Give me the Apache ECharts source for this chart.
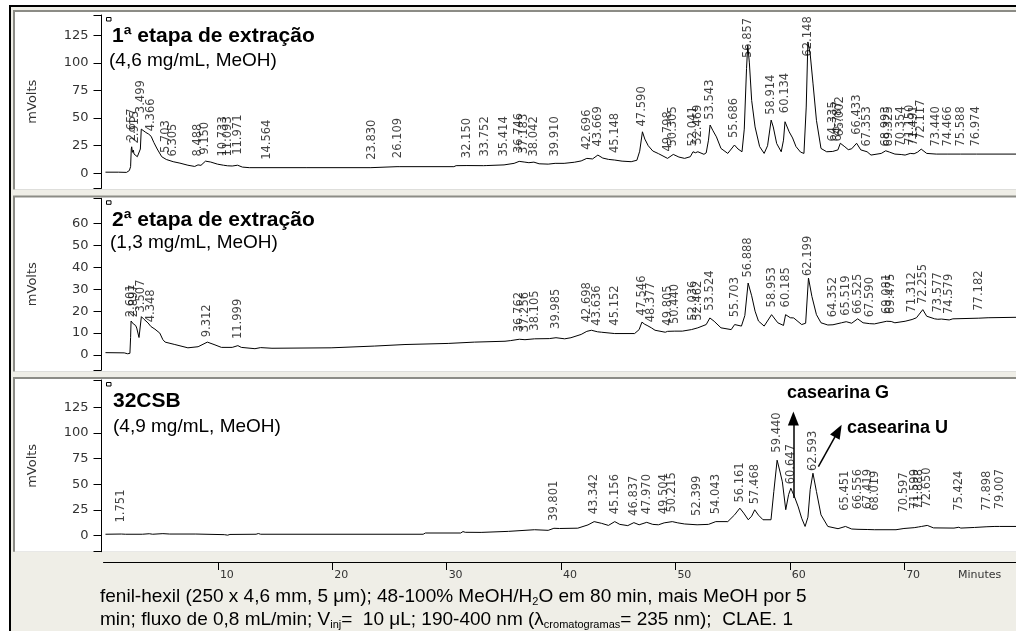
<!DOCTYPE html>
<html><head><meta charset="utf-8">
<script src="https://cdn.jsdelivr.net/npm/echarts@6/dist/echarts.min.js"></script>
<style>html,body{margin:0;padding:0;background:#fff}#c{width:1016px;height:631px}</style>
</head><body><div id="c"></div>
<script>
// Chromatogram traces: [retention time (min), signal (mV)]
const trace1 = [[0.35,1.0],[1.5,1.0],[2.2,0.8],[2.45,2.5],[2.56,6.0],[2.62,22.0],[2.657,24.0],[2.72,19.0],[2.8,21.0],[2.86,17.5],[2.915,19.0],[3.0,16.0],[3.15,15.0],[3.3,13.5],[3.42,22.0],[3.499,40.0],[3.65,38.5],[3.9,37.0],[4.15,35.5],[4.366,33.5],[4.6,28.0],[4.9,22.0],[5.3,15.0],[5.703,12.5],[6.305,10.5],[6.9,9.2],[7.6,7.3],[8.2,6.2],[8.488,7.6],[8.75,7.2],[9.15,11.0],[9.6,10.2],[10.2,8.3],[10.733,7.3],[11.093,6.8],[11.5,6.6],[11.971,7.3],[12.4,5.6],[13.0,5.1],[18.0,5.1],[23.7,5.1],[23.83,6.0],[26.0,6.0],[26.109,7.0],[26.25,6.0],[31.0,6.0],[31.2,6.9],[32.15,7.0],[33.6,6.9],[33.752,8.7],[33.9,7.0],[35.414,7.6],[36.3,9.0],[36.746,10.8],[37.183,10.2],[37.6,9.6],[38.042,10.1],[38.5,8.6],[39.3,8.3],[39.91,9.0],[40.7,9.0],[41.6,10.0],[42.2,11.2],[42.696,13.5],[43.2,13.0],[43.669,16.5],[44.1,13.8],[44.6,12.6],[45.148,12.0],[45.8,11.0],[46.6,10.5],[47.1,11.8],[47.35,20.0],[47.59,37.6],[47.8,31.0],[48.1,25.0],[48.5,20.2],[49.0,17.8],[49.798,13.5],[50.305,17.1],[50.8,14.7],[51.3,13.5],[51.8,15.0],[52.041,19.5],[52.25,18.6],[52.469,19.5],[53.0,17.2],[53.2,18.5],[53.4,30.0],[53.543,43.7],[53.8,38.5],[54.1,33.0],[54.5,22.5],[55.1,18.0],[55.686,25.6],[56.0,22.0],[56.35,19.5],[56.55,40.0],[56.75,95.0],[56.857,116.0],[57.0,100.0],[57.2,66.0],[57.5,42.0],[57.9,24.2],[58.3,18.0],[58.6,25.0],[58.914,48.2],[59.1,42.0],[59.4,27.0],[59.8,19.5],[60.0,30.0],[60.134,46.7],[60.5,37.6],[60.8,32.0],[61.1,24.2],[61.5,19.2],[61.8,18.0],[62.0,60.0],[62.148,119.0],[62.35,108.0],[62.6,81.0],[62.9,48.0],[63.3,22.5],[63.8,19.5],[64.335,19.8],[64.787,21.2],[65.002,27.2],[65.4,24.0],[65.7,21.4],[66.0,22.2],[66.433,27.2],[66.8,21.2],[67.353,19.5],[67.7,16.5],[68.6,18.0],[68.993,20.4],[69.325,19.2],[69.8,17.4],[70.354,17.0],[70.7,16.5],[71.15,18.0],[71.491,17.7],[71.8,19.2],[72.117,21.9],[72.6,18.0],[73.44,17.4],[74.466,17.4],[75.588,17.4],[76.974,17.4],[80.5,17.4]];

const trace2 = [[0.35,1.1],[2.0,1.0],[2.3,0.6],[2.5,0.8],[2.56,8.0],[2.601,15.5],[2.7,14.8],[2.75,15.6],[2.8,14.2],[2.897,14.5],[3.0,13.5],[3.1,12.3],[3.3,8.0],[3.42,8.8],[3.507,17.5],[3.7,16.5],[4.1,14.6],[4.348,13.0],[4.7,11.8],[5.13,10.0],[5.4,7.0],[5.6,5.9],[6.45,4.8],[7.6,3.3],[8.5,3.8],[9.312,5.9],[9.9,4.8],[10.55,3.5],[11.5,3.5],[11.999,4.3],[12.3,3.5],[13.5,2.9],[14.0,3.4],[15.0,3.1],[20.2,3.3],[20.3,4.1],[24.0,4.1],[24.1,4.8],[26.7,4.8],[26.8,5.3],[30.5,5.3],[30.6,5.9],[32.8,5.9],[32.9,6.3],[35.5,6.3],[36.0,6.6],[36.762,7.2],[37.256,7.0],[38.105,7.4],[39.4,7.5],[39.985,7.9],[40.75,7.4],[41.3,7.9],[42.2,9.4],[42.698,10.8],[43.1,11.3],[43.636,10.6],[44.0,10.4],[45.152,9.8],[46.9,9.8],[47.3,11.6],[47.546,15.0],[47.8,14.0],[48.0,13.5],[48.377,12.4],[48.7,11.3],[49.6,10.4],[49.805,10.8],[50.44,10.9],[51.1,10.9],[51.9,11.6],[52.036,12.0],[52.462,12.4],[53.2,13.9],[53.524,16.9],[53.9,15.4],[54.5,12.4],[55.4,11.6],[55.703,13.9],[56.3,13.2],[56.6,18.0],[56.888,32.8],[57.2,27.0],[57.5,20.0],[57.8,15.5],[58.3,13.2],[58.953,18.4],[59.5,14.7],[60.0,13.5],[60.185,18.4],[60.6,17.0],[60.9,16.9],[61.6,13.9],[61.95,14.5],[62.199,35.1],[62.5,26.7],[62.9,18.4],[63.3,14.7],[63.9,13.7],[64.352,13.8],[65.1,14.7],[65.519,15.2],[66.0,14.5],[66.525,16.5],[67.0,14.7],[67.59,14.3],[68.0,14.2],[69.081,15.4],[69.475,15.3],[69.8,14.7],[70.7,15.4],[71.312,16.2],[71.7,17.0],[72.255,20.7],[72.6,17.7],[73.3,16.5],[73.577,16.3],[73.9,16.4],[74.579,16.0],[74.9,16.5],[77.182,16.8],[78.0,17.0],[80.5,17.2]];

const trace3 = [[0.35,1.4],[1.751,1.6],[1.9,2.1],[2.1,1.4],[3.3,1.4],[3.4,2.0],[3.6,1.4],[4.2,1.9],[4.5,1.4],[5.4,2.0],[6.0,1.6],[8.3,1.6],[10.8,1.0],[11.1,0.5],[11.3,1.2],[13.6,1.4],[13.8,2.1],[14.0,1.4],[28.3,1.4],[28.5,2.6],[31.6,2.6],[31.8,4.0],[32.0,3.3],[33.4,3.2],[35.8,4.2],[38.1,5.8],[39.3,5.2],[39.801,7.2],[40.3,7.0],[41.9,7.3],[42.8,10.5],[43.342,13.7],[44.0,12.0],[44.6,10.0],[45.156,13.7],[45.6,11.0],[46.3,9.8],[46.837,12.7],[47.3,10.6],[47.97,13.0],[48.5,11.0],[49.0,10.6],[49.504,12.5],[50.215,13.7],[50.7,12.5],[51.3,11.4],[52.399,10.6],[53.4,11.0],[54.043,13.7],[55.1,13.7],[55.7,20.3],[56.161,26.8],[56.5,22.0],[56.9,15.5],[57.2,19.0],[57.468,25.2],[57.8,20.0],[58.2,15.5],[58.9,15.5],[59.15,43.0],[59.44,73.5],[59.7,62.0],[59.9,52.5],[60.2,25.3],[60.45,40.0],[60.647,46.2],[61.0,37.0],[61.3,28.0],[61.6,17.0],[61.9,9.0],[62.15,18.0],[62.35,45.0],[62.593,60.8],[62.9,43.0],[63.3,20.3],[63.9,9.0],[64.8,6.8],[65.451,9.0],[66.0,6.5],[66.556,6.2],[67.419,6.0],[68.019,5.8],[69.9,5.8],[70.597,7.0],[71.5,7.8],[71.599,8.0],[71.888,8.5],[72.15,9.0],[72.65,10.0],[73.2,7.6],[75.0,7.4],[75.424,8.2],[75.6,7.4],[76.8,8.0],[77.898,8.7],[78.6,9.0],[79.007,9.0],[80.5,9.0]];

// Integrated peaks: [retention time (min), level of the printed label (mV)]
const peaks1 = [[2.657,24],[2.915,22],[3.499,49.5],[4.366,33],[5.703,13.3],[6.305,10.2],[8.488,10.2],[9.150,11.8],[10.733,10.2],[11.093,10.2],[11.971,11.8],[14.564,7.2],[23.830,7.2],[26.109,8.7],[32.150,8.7],[33.752,10.2],[35.414,10.2],[36.746,13.3],[37.183,12.5],[38.042,10.2],[39.910,10.2],[42.696,16.3],[43.669,19.3],[45.148,13.3],[47.590,37.4],[49.798,14.8],[50.305,19.3],[52.041,19.3],[52.469,20.8],[53.543,43.5],[55.686,26.9],[56.857,99.4],[58.914,48],[60.134,49.5],[62.148,100.8],[64.335,23.8],[64.787,23.8],[65.002,28.4],[66.433,29.9],[67.353,19.3],[68.993,19.3],[69.325,19.3],[70.354,19.3],[71.150,20.8],[71.491,20.0],[72.117,25.4],[73.440,19.3],[74.466,19.3],[75.588,19.3],[76.974,19.3]];
const peaks2 = [[2.601,14.7],[2.897,14.7],[3.507,16.9],[4.348,12.4],[9.312,5.6],[11.999,4.8],[36.762,7.9],[37.256,7.9],[38.105,8.6],[39.985,9.4],[42.698,12.4],[43.636,10.9],[45.152,10.9],[47.546,15.4],[48.377,12.4],[49.805,10.9],[50.440,11.6],[52.036,13.1],[52.462,13.1],[53.524,17.7],[55.703,14.7],[56.888,32.8],[58.953,19.2],[60.185,19.2],[62.199,33.5],[64.352,14.7],[65.519,15.4],[66.525,16.2],[67.590,14.7],[69.081,16.2],[69.475,16.2],[71.312,16.9],[72.255,20.7],[73.577,16.9],[74.579,16.2],[77.182,17.7]];
const peaks3 = [[1.751,7.5],[39.801,9.0],[43.342,15.5],[45.156,15.5],[46.837,13.9],[47.970,15.5],[49.504,15.5],[50.215,17.2],[52.399,13.9],[54.043,15.5],[56.161,26.9],[57.468,25.3],[59.440,75.5],[60.647,44.7],[62.593,57.6],[65.451,18.8],[66.556,20.4],[67.419,20.4],[68.019,18.8],[70.597,17.2],[71.599,20.4],[71.888,20.4],[72.650,22.0],[75.424,18.8],[77.898,18.8],[79.007,20.4]];

// Axis tick values
const yTicks1 = [0, 25, 50, 75, 100, 125];
const yTicks2 = [0, 10, 20, 30, 40, 50, 60];
const yTicks3 = [0, 25, 50, 75, 100, 125];
const timeTicks = [0, 10, 20, 30, 40, 50, 60, 70, 80];

// Panel titles
const titles = ['1ª etapa de extração', '2ª etapa de extração', '32CSB'];
const subtitles = ['(4,6 mg/mL, MeOH)', '(1,3 mg/mL, MeOH)', '(4,9 mg/mL, MeOH)'];

// Layout of the three stacked chromatogram panels (pixels) and their signal ranges
const panels = [
  { frameTop: 10,    frameBottom: 189.5, axisTop: 15,    axisBottom: 188.3, yMin: -13.6, yMax: 143.4, ticks: yTicks1, trace: trace1, peaks: peaks1, titleY: 36,  subY: 61,  titleX: 112, subX: 109 },
  { frameTop: 195.5, frameBottom: 371.5, axisTop: 198.3, axisBottom: 370,   yMin: -6.8,  yMax: 71.4,  ticks: yTicks2, trace: trace2, peaks: peaks2, titleY: 220, subY: 243, titleX: 112, subX: 110 },
  { frameTop: 377,   frameBottom: 551.7, axisTop: 380,   axisBottom: 551.7, yMin: -15.6, yMax: 151.6, ticks: yTicks3, trace: trace3, peaks: peaks3, titleY: 401, subY: 427, titleX: 113, subX: 113 }
];
const plotLeft = 101.5, plotWidth = 915, timeMax = 80.5;

const axisFont = 'DejaVu Sans';
const textFont = 'Liberation Sans';

const grids = [], xAxes = [], yAxes = [], series = [], graphics = [];

// frame: outer black border and beige surround
graphics.push({ type: 'rect', z: -5, shape: { x: 11, y: 7, width: 1005, height: 624 }, style: { fill: '#efeee7' } });
graphics.push({ type: 'rect', z: -4, shape: { x: 9, y: 5, width: 1007, height: 2 }, style: { fill: '#000' } });
graphics.push({ type: 'rect', z: -4, shape: { x: 9, y: 5, width: 2, height: 626 }, style: { fill: '#000' } });

panels.forEach((p, i) => {
  graphics.push({ type: 'rect', z: -3, shape: { x: 13, y: p.frameTop, width: 1003, height: p.frameBottom - p.frameTop }, style: { fill: '#8c8c86' } });
  graphics.push({ type: 'rect', z: -2, shape: { x: 15, y: p.frameTop + 2, width: 1001, height: p.frameBottom - p.frameTop - 2 }, style: { fill: '#fff' } });
  graphics.push({ type: 'rect', z: 10, shape: { x: 106.5, y: p.axisTop + 2.5, width: 4.5, height: 3.5 }, style: { fill: 'none', stroke: '#000', lineWidth: 1 } });
  graphics.push({ type: 'text', z: 10, x: p.titleX, y: p.titleY, style: { text: titles[i], fontFamily: textFont, fontWeight: 'bold', fontSize: 21, fill: '#000', verticalAlign: 'middle' } });
  graphics.push({ type: 'text', z: 10, x: p.subX, y: p.subY, style: { text: subtitles[i], fontFamily: textFont, fontSize: 19, fill: '#000', verticalAlign: 'middle' } });

  grids.push({ left: plotLeft, width: plotWidth, top: p.axisTop, height: p.axisBottom - p.axisTop, outerBoundsMode: 'none', containLabel: false });
  xAxes.push({ type: 'value', gridIndex: i, min: 0, max: timeMax, show: false });
  yAxes.push({
    type: 'value', gridIndex: i, min: p.yMin, max: p.yMax,
    name: 'mVolts', nameLocation: 'middle', nameGap: 62,
    nameTextStyle: { fontFamily: axisFont, fontSize: 13, color: '#333' },
    axisLine: { show: true, lineStyle: { color: '#000', width: 1 } },
    axisTick: { show: true, length: 8, lineStyle: { color: '#000' }, customValues: [p.yMin].concat(p.ticks, [p.yMax]) },
    axisLabel: { customValues: p.ticks, fontFamily: axisFont, fontSize: 13, color: '#333', margin: 13 },
    splitLine: { show: false }
  });
  series.push({
    type: 'line', xAxisIndex: i, yAxisIndex: i, data: p.trace, symbol: 'none', silent: true,
    lineStyle: { color: '#000', width: 1 }, animation: false
  });
  series.push({
    type: 'scatter', xAxisIndex: i, yAxisIndex: i, data: p.peaks, symbolSize: 1, silent: true,
    itemStyle: { color: 'transparent' }, animation: false,
    label: {
      show: true, position: 'top', distance: 5, rotate: 90, align: 'left', verticalAlign: 'middle',
      fontFamily: axisFont, fontSize: 11.5, color: '#111',
      formatter: (d) => d.value[0].toFixed(3)
    }
  });
});

// arrows pointing out the identified compounds in the last panel
series[4].markLine = {
  silent: true, animation: false, symbol: ['none', 'triangle'], symbolSize: [11, 14],
  label: { show: false }, lineStyle: { color: '#000', width: 1.5, type: 'solid' },
  data: [
    [{ coord: [60.87, 36.7] }, { coord: [60.87, 114] }],
    [{ coord: [63.07, 67.2] }, { coord: [64.82, 102] }]
  ]
};
graphics.push({ type: 'text', z: 10, x: 787, y: 393, style: { text: 'casearina G', fontFamily: textFont, fontWeight: 'bold', fontSize: 18, fill: '#000', verticalAlign: 'middle' } });
graphics.push({ type: 'text', z: 10, x: 847, y: 428, style: { text: 'casearina U', fontFamily: textFont, fontWeight: 'bold', fontSize: 18, fill: '#000', verticalAlign: 'middle' } });

// shared time axis
grids.push({ left: 103.5, width: 915, top: 561, height: 1, outerBoundsMode: 'none', containLabel: false });
xAxes.push({
  type: 'value', gridIndex: 3, min: timeTicks[0], max: timeTicks[timeTicks.length - 1], interval: 10,
  axisLine: { show: true, lineStyle: { color: '#000', width: 1 } },
  axisTick: { show: true, length: 8, lineStyle: { color: '#000' } },
  axisLabel: { showMinLabel: false, showMaxLabel: false, align: 'left', margin: 8, padding: [0, 0, 0, 2], fontFamily: axisFont, fontSize: 11, color: '#333' },
  splitLine: { show: false }
});
yAxes.push({ type: 'value', gridIndex: 3, show: false });
graphics.push({ type: 'text', z: 10, x: 958, y: 575, style: { text: 'Minutes', fontFamily: axisFont, fontSize: 11, fill: '#333', verticalAlign: 'middle' } });

// method description
const capRich = { s: { fontFamily: textFont, fontSize: 11, fill: '#000', padding: [10, 0, 0, 0] } };
graphics.push({ type: 'text', z: 10, x: 100, y: 597, style: { text: 'fenil-hexil (250 x 4,6 mm, 5 μm); 48-100% MeOH/H{s|2}O em 80 min, mais MeOH por 5', rich: capRich, fontFamily: textFont, fontSize: 19, fill: '#000', verticalAlign: 'middle' } });
graphics.push({ type: 'text', z: 10, x: 100, y: 620, style: { text: 'min; fluxo de 0,8 mL/min; V{s|inj}=  10 μL; 190-400 nm (λ{s|cromatogramas}= 235 nm);  CLAE. 1', rich: capRich, fontFamily: textFont, fontSize: 19, fill: '#000', verticalAlign: 'middle' } });

const chart = echarts.init(document.getElementById('c'), null, { renderer: 'canvas' });
chart.setOption({
  animation: false,
  backgroundColor: '#fff',
  grid: grids, xAxis: xAxes, yAxis: yAxes, series: series,
  graphic: { elements: graphics }
});
</script>
</body></html>
